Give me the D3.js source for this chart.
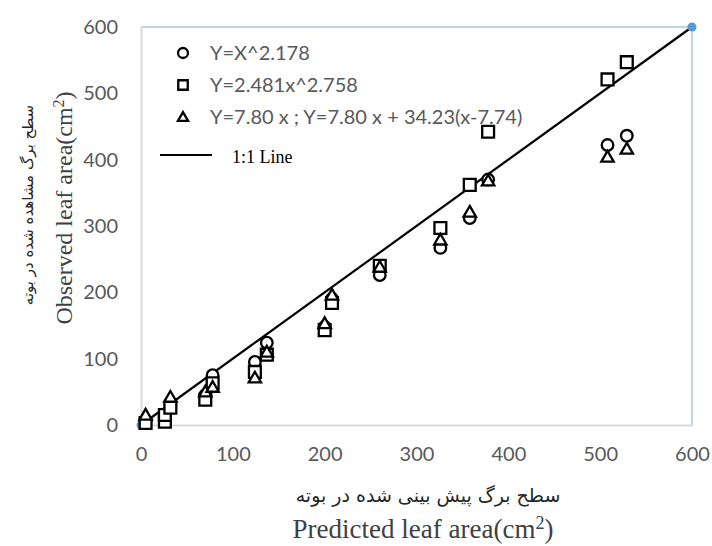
<!DOCTYPE html>
<html><head><meta charset="utf-8">
<script src="https://cdn.jsdelivr.net/npm/d3@7"></script>
<style>body{margin:0;background:#fff}</style>
</head><body>
<script>
const xTicks = [0,100,200,300,400,500,600];
const yTicks = [0,100,200,300,400,500,600];
const circleX = [5,32,70,78,124,137,200,208,260,326,358,378,508,529];
const circleY = [6,30,45,75,95,124,148,190,226,267,312,370,422,436];
const squareX = [5,26,26,32,70,78,124,137,200,208,260,326,358,378,508,529];
const squareY = [3,5,15,26,38,63,80,106,143,184,240,297,362,442,521,547];
const triX = [5,32,70,78,124,137,200,208,260,326,358,378,508,529];
const triY = [15,42,50,57,71,110,153,196,238,279,321,368,404,416];
const oneToOne = [0,600];
const legendLabels = ["Y=X^2.178","Y=2.481x^2.758","Y=7.80 x ; Y=7.80 x + 34.23(x-7.74)","1:1 Line"];

const W=712,H=546;
const svg=d3.select("body").append("svg").attr("width",W).attr("height",H);
const x=d3.scaleLinear().domain([0,600]).range([141,692]);
const y=d3.scaleLinear().domain([0,600]).range([425,27]);

// frame
svg.append("line").attr("x1",x(0)).attr("x2",x(600)).attr("y1",y(600)).attr("y2",y(600)).attr("stroke","#a9c8e4").attr("stroke-width",1.5);
svg.append("line").attr("x1",x(600)).attr("x2",x(600)).attr("y1",y(0)).attr("y2",y(600)).attr("stroke","#a9c8e4").attr("stroke-width",1.5);

const xa=svg.append("g").attr("transform",`translate(0,${y(0)})`).call(d3.axisBottom(x).tickValues(xTicks).tickSize(0).tickPadding(22));
const ya=svg.append("g").attr("transform",`translate(${x(0)},0)`).call(d3.axisLeft(y).tickValues(yTicks).tickSize(0).tickPadding(23));
[xa,ya].forEach(a=>{a.select(".domain").attr("stroke","#d9d9d9").attr("stroke-width",2);
 a.selectAll("text").attr("fill","#595959").style("font-family","Lato, 'Liberation Sans', sans-serif").style("font-size","20px");});

// 1:1 line
svg.append("line").attr("x1",x(oneToOne[0])).attr("y1",y(oneToOne[0])).attr("x2",x(oneToOne[1])).attr("y2",y(oneToOne[1])).attr("stroke","#000").attr("stroke-width",2.2);
svg.selectAll(".bd").data(oneToOne).enter().append("circle").attr("cx",d=>x(d)).attr("cy",d=>y(d)).attr("r",4.5).attr("fill","#5b9bd5");

const sq=d3.symbol().type(d3.symbolSquare).size(140)();
const tr=d3.symbol().type(d3.symbolTriangle).size(66)();
const st={fill:"#fff",stroke:"#000","stroke-width":2.3};
function sty(s){Object.entries(st).forEach(([k,v])=>s.attr(k,v));return s;}

sty(svg.append("g").selectAll("circle").data(circleX.map((d,i)=>[d,circleY[i]])).enter().append("circle")
 .attr("cx",d=>x(d[0])).attr("cy",d=>y(d[1])).attr("r",5.8));
sty(svg.append("g").selectAll("path").data(squareX.map((d,i)=>[d,squareY[i]])).enter().append("path")
 .attr("d",sq).attr("transform",d=>`translate(${x(d[0])},${y(d[1])})`));
sty(svg.append("g").selectAll("path").data(triX.map((d,i)=>[d,triY[i]])).enter().append("path")
 .attr("d",tr).attr("transform",d=>`translate(${x(d[0])},${y(d[1])+1})`));

// legend
const lg=svg.append("g");
const ly=[53,85,117,155];
sty(lg.append("circle").attr("cx",183).attr("cy",ly[0]).attr("r",5));
sty(lg.append("path").attr("d",d3.symbol().type(d3.symbolSquare).size(90)()).attr("transform",`translate(183,${ly[1]})`));
sty(lg.append("path").attr("d",d3.symbol().type(d3.symbolTriangle).size(45)()).attr("transform",`translate(183,${ly[2]+1})`));
lg.append("line").attr("x1",160).attr("x2",212).attr("y1",ly[3]).attr("y2",ly[3]).attr("stroke","#000").attr("stroke-width",2);
legendLabels.slice(0,3).forEach((t,i)=>lg.append("text").attr("x",210).attr("y",ly[i]).attr("dy","0.35em")
 .attr("fill","#595959").style("font-family","Lato, 'Liberation Sans', sans-serif").style("font-size","20px").text(t));
lg.append("text").attr("x",232).attr("y",ly[3]+2).attr("dy","0.35em").attr("fill","#000")
 .style("font-family","'Liberation Serif', serif").style("font-size","18px").text(legendLabels[3]);

// axis titles
svg.append("text").attr("x",428).attr("y",495).attr("dy","0.35em").attr("text-anchor","middle").attr("fill","#262626")
 .style("font-family","'DejaVu Sans', sans-serif").style("font-size","19px").attr("direction","rtl").text("سطح برگ  پیش بینی شده در بوته");
svg.append("text").attr("x",423).attr("y",538).attr("text-anchor","middle").attr("fill","#404040")
 .style("font-family","'Liberation Serif', serif").style("font-size","27px")
 .html('Predicted leaf area(cm<tspan dy="-9" font-size="18">2</tspan><tspan dy="9">)</tspan>');
svg.append("text").attr("transform","translate(28,205) rotate(-90)").attr("dy","0.35em").attr("text-anchor","middle").attr("fill","#262626")
 .style("font-family","'DejaVu Sans', sans-serif").style("font-size","15px").attr("direction","rtl").text("سطح برگ مشاهده شده در بوته");
svg.append("text").attr("transform","translate(72,208) rotate(-90)").attr("text-anchor","middle").attr("fill","#404040")
 .style("font-family","'Liberation Serif', serif").style("font-size","24px")
 .html('Observed leaf area(cm<tspan dy="-8" font-size="16">2</tspan><tspan dy="8">)</tspan>');
</script>
</body></html>
